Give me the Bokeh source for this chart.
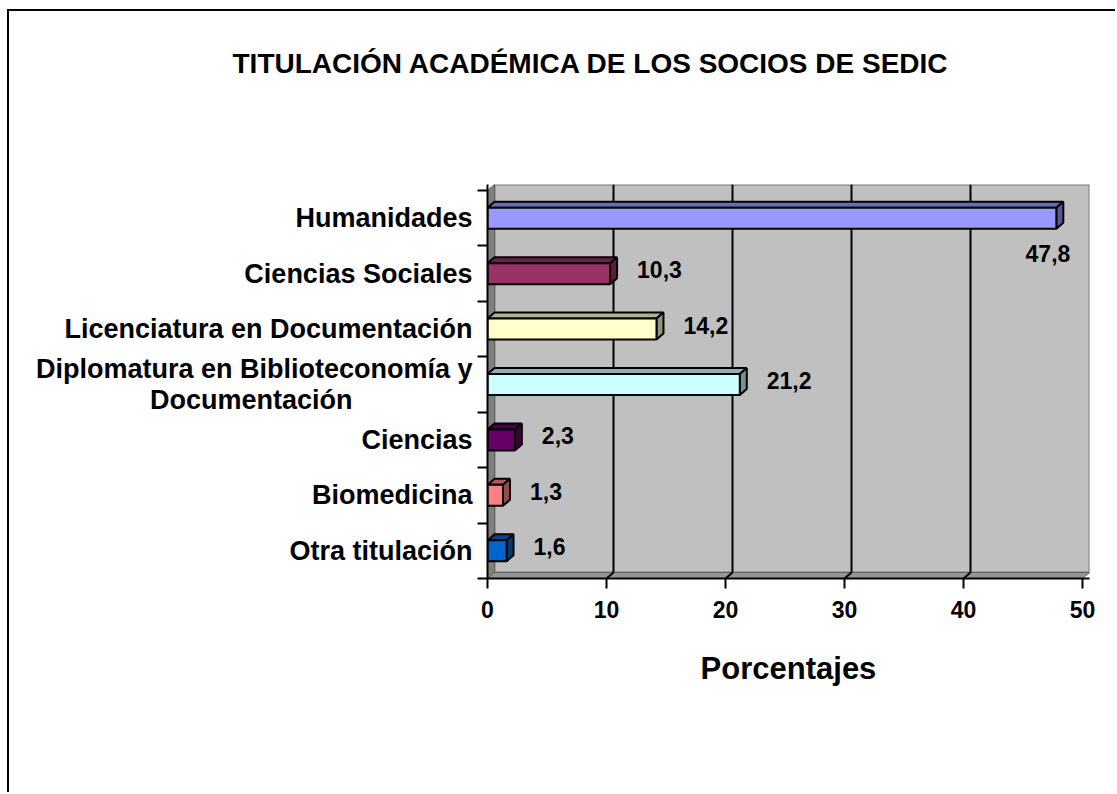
from bokeh.plotting import figure
from bokeh.models import FixedTicker, Range1d, ColumnDataSource, Title
from bokeh.core.properties import value
from bokeh.embed import file_html
from bokeh.resources import INLINE

# ---------------- data ----------------
categories = [
    "Humanidades",
    "Ciencias Sociales",
    "Licenciatura en Documentación",
    "Diplomatura en Biblioteconomía y\nDocumentación" + "\u00a0" * 16,
    "Ciencias",
    "Biomedicina",
    "Otra titulación",
]
values = [47.8, 10.3, 14.2, 21.2, 2.3, 1.3, 1.6]
colors = ["#9999FF", "#993366", "#FFFFCC", "#CCFFFF", "#660066", "#FF8080", "#0066CC"]
x_ticks = [0, 10, 20, 30, 40, 50]
title_text = "TITULACIÓN ACADÉMICA DE LOS SOCIOS DE SEDIC"
x_title = "Porcentajes"

# ---------------- geometry (pixels, canvas coordinates) ----------------
OX, OY = 9, 11            # page position of the canvas
W, H = 1108, 783
left_px, right_px, top_px, bottom_px = 487 - OX, 1089 - OX, 184 - OY, 578 - OY
depth_x, depth_y = 7, 6
n = len(categories)
x_max = x_ticks[-1]
frame_w = right_px - left_px
frame_h = bottom_px - top_px
ppu_x = (frame_w - depth_x) / x_max
ppu_y = (frame_h - depth_y) / n
dxu = depth_x / ppu_x
dyu = depth_y / ppu_y
half_h = 10.5 / ppu_y

SANS = "Liberation Sans"


def shade(hex_color, f):
    h = hex_color.lstrip("#")
    r, g, b = (int(h[i:i + 2], 16) for i in (0, 2, 4))
    return "#%02x%02x%02x" % (int(r * f), int(g * f), int(b * f))


p = figure(
    width=W, height=H,
    x_range=Range1d(0, x_max + dxu), y_range=Range1d(0, n + dyu),
    output_backend="svg", toolbar_location=None,
    min_border_left=left_px, min_border_right=W - right_px,
    min_border_top=top_px, min_border_bottom=H - bottom_px,
    background_fill_color="white", border_fill_color="white",
)
p.styles = {"border-left": "2px solid black", "border-top": "2px solid black",
            "margin-left": "%dpx" % (OX - 2), "margin-top": "%dpx" % (OY - 2)}
p.outline_line_color = None
p.xgrid.visible = False
p.ygrid.visible = False

# ---------------- walls ----------------
p.quad(left=[dxu], right=[x_max + dxu], bottom=[dyu], top=[n + dyu],
       fill_color="#C0C0C0", line_color="#808080", line_width=2)
p.patch([0, dxu, dxu, 0], [0, dyu, n + dyu, n], fill_color="#808080",
        line_color="#606060", line_width=1)
p.patch([0, x_max, x_max + dxu, dxu], [0, 0, dyu, dyu], fill_color="#969696",
        line_color="#606060", line_width=1)

# grid lines on back wall and floor
gx = [t for t in x_ticks if 0 < t < x_max]
p.segment(x0=[t + dxu for t in gx], y0=[dyu] * len(gx), x1=[t + dxu for t in gx],
          y1=[n + dyu] * len(gx), line_color="black", line_width=2)
p.segment(x0=gx, y0=[0] * len(gx), x1=[t + dxu for t in gx], y1=[dyu] * len(gx),
          line_color="black", line_width=2)

# ---------------- bars ----------------
centers = [n - 1 - i + 0.5 for i in range(n)]
bottoms = [c - half_h for c in centers]
tops = [c + half_h for c in centers]

top_xs = [[0, v, v + dxu, dxu] for v in values]
top_ys = [[t, t, t + dyu, t + dyu] for t in tops]
side_xs = [[v, v + dxu, v + dxu, v] for v in values]
side_ys = [[b, b + dyu, t + dyu, t] for b, t in zip(bottoms, tops)]

p.patches(top_xs, top_ys, fill_color=[shade(c, 0.7) for c in colors],
          line_color="black", line_width=2)
p.patches(side_xs, side_ys, fill_color=[shade(c, 0.58) for c in colors],
          line_color="black", line_width=2)
p.quad(left=[0] * n, right=values, bottom=bottoms, top=tops,
       fill_color=colors, line_color="black", line_width=2)

# ---------------- value labels ----------------
labels = [("%.1f" % v).replace(".", ",") for v in values]
fits = [v * ppu_x + depth_x + 20 + 50 < frame_w for v in values]
src_in = ColumnDataSource(dict(
    x=[v for v, f in zip(values, fits) if f],
    y=[c for c, f in zip(centers, fits) if f],
    t=[l for l, f in zip(labels, fits) if f]))
src_out = ColumnDataSource(dict(
    x=[v for v, f in zip(values, fits) if not f],
    y=[c for c, f in zip(centers, fits) if not f],
    t=[l for l, f in zip(labels, fits) if not f]))
p.text(x="x", y="y", text="t", source=src_in, text_align="left",
       text_baseline="middle", x_offset=depth_x + 20, y_offset=-4,
       text_font=value(SANS), text_font_style="bold", text_font_size="23px",
       text_color="black")
p.text(x="x", y="y", text="t", source=src_out, text_align="right",
       text_baseline="middle", x_offset=14, y_offset=35,
       text_font=value(SANS), text_font_style="bold", text_font_size="23px",
       text_color="black")

# ---------------- axes ----------------
xa = p.xaxis[0]
xa.ticker = FixedTicker(ticks=x_ticks)
xa.axis_line_color = "black"
xa.axis_line_width = 2
xa.major_tick_line_color = "black"
xa.major_tick_line_width = 2
xa.major_tick_out = 10
xa.major_tick_in = 0
xa.minor_tick_line_color = None
xa.major_label_standoff = 12
xa.major_label_text_font = SANS
xa.major_label_text_font_style = "bold"
xa.major_label_text_font_size = "23px"
xa.major_label_text_color = "black"
xa.axis_label = x_title
xa.axis_label_text_font = SANS
xa.axis_label_text_font_style = "bold"
xa.axis_label_text_font_size = "31px"
xa.axis_label_text_color = "black"
xa.axis_label_standoff = 30

ya = p.yaxis[0]
ya.ticker = FixedTicker(ticks=centers, minor_ticks=list(range(n + 1)))
ya.major_label_overrides = {c: lab for c, lab in zip(centers, categories)}
ya.axis_line_color = "black"
ya.axis_line_width = 2
ya.major_tick_line_color = None
ya.major_tick_out = 0
ya.major_tick_in = 0
ya.minor_tick_line_color = "black"
ya.minor_tick_line_width = 2
ya.minor_tick_out = 10
ya.minor_tick_in = 0
ya.major_label_standoff = 5
ya.major_label_text_font = SANS
ya.major_label_text_font_style = "bold"
ya.major_label_text_font_size = "27px"
ya.major_label_text_line_height = 1.05
ya.major_label_text_color = "black"
ya.major_label_text_align = "right"

# ---------------- title (spacer panel pushes it up) ----------------
spacer = Title(text=" ", text_font_size="1px", standoff=98)
p.add_layout(spacer, "above")
p.title.text = title_text
p.title.align = "left"
p.title.offset = 232 - 487
p.title.standoff = 10
p.title.text_font = SANS
p.title.text_font_style = "bold"
p.title.text_font_size = "28px"
p.title.text_color = "black"

open("out.html", "w").write(file_html(p, INLINE))
